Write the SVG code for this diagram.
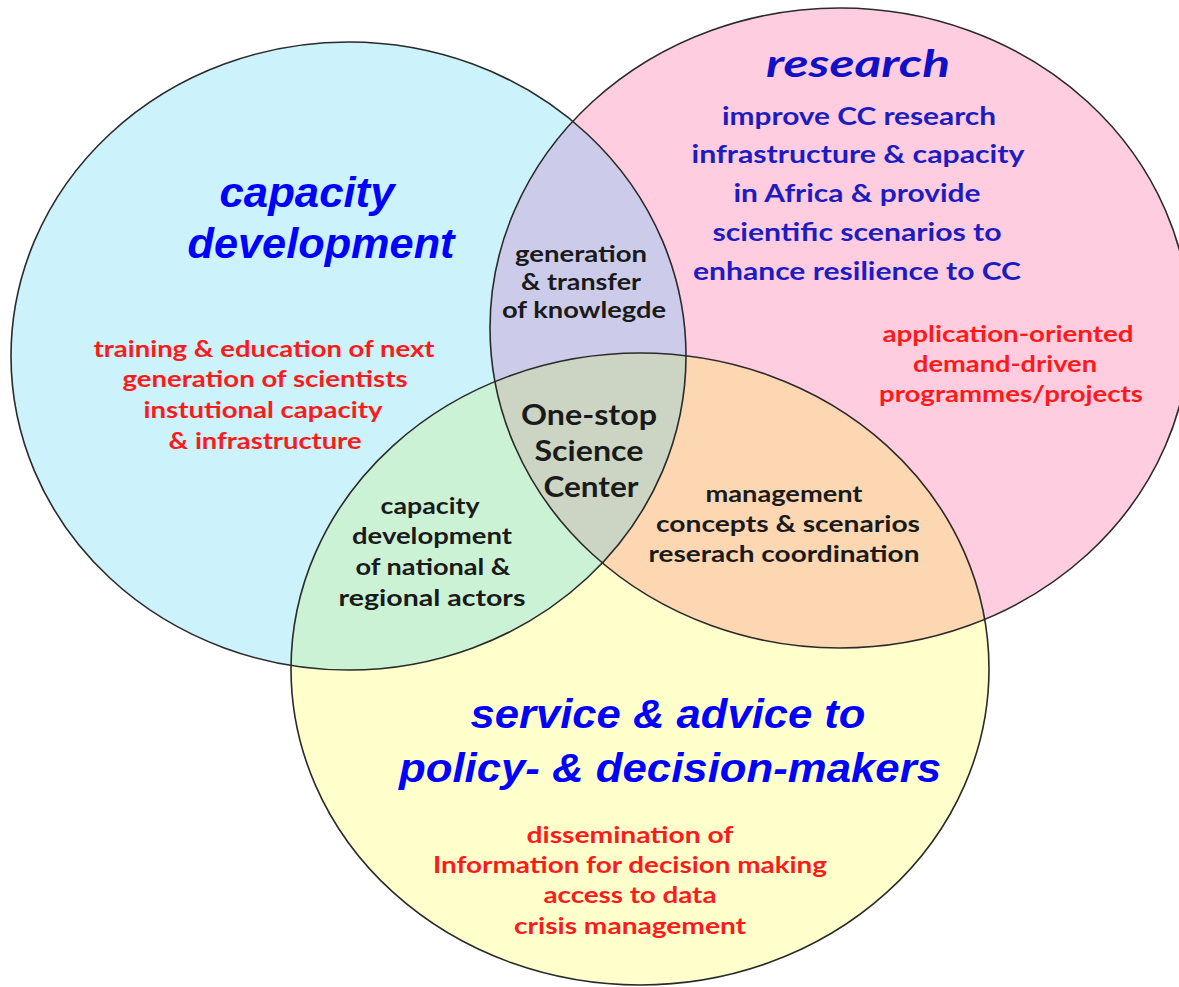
<svg xmlns="http://www.w3.org/2000/svg" width="1179" height="987" viewBox="0 0 1179 987">
<style>
.title{font-family:"Liberation Sans",Arial,sans-serif;font-weight:bold;font-style:italic;fill:#0000ff;text-anchor:middle}
.rt{font-family:Lato,"Open Sans",sans-serif;font-weight:bold;font-style:italic;fill:#1010c8;text-anchor:middle}
.blue{font-family:Lato,"Open Sans",sans-serif;font-weight:bold;fill:#1c1cc0;text-anchor:middle}
.red{font-family:Lato,"Open Sans",sans-serif;font-weight:bold;fill:#ff1a1a;text-anchor:middle}
.blk{font-family:Lato,"Open Sans",sans-serif;font-weight:bold;fill:#1a1a1a;text-anchor:middle}
.ol{fill:none;stroke:#2a2a2a;stroke-width:1.6}
</style>
<defs>
<clipPath id="cL"><ellipse cx="348.5" cy="356" rx="337.5" ry="314"/></clipPath>
<clipPath id="cR"><ellipse cx="840" cy="328" rx="350" ry="320"/></clipPath>
</defs>
<rect width="1179" height="987" fill="#ffffff"/>
<g id="circles">
<ellipse cx="348.5" cy="356" rx="337.5" ry="314" fill="#ccf2fc"/>
<ellipse cx="840" cy="328" rx="350" ry="320" fill="#ffcce0"/>
<ellipse cx="640" cy="669" rx="349" ry="316" fill="#ffffcc"/>
<ellipse cx="840" cy="328" rx="350" ry="320" fill="#ccccea" clip-path="url(#cL)"/>
<ellipse cx="640" cy="669" rx="349" ry="316" fill="#ccf2d6" clip-path="url(#cL)"/>
<ellipse cx="640" cy="669" rx="349" ry="316" fill="#fdd6b2" clip-path="url(#cR)"/>
<g clip-path="url(#cL)"><ellipse cx="640" cy="669" rx="349" ry="316" fill="#ccd4c4" clip-path="url(#cR)"/></g>
<ellipse class="ol" cx="348.5" cy="356" rx="337.5" ry="314"/>
<ellipse class="ol" cx="840" cy="328" rx="350" ry="320"/>
<ellipse class="ol" cx="640" cy="669" rx="349" ry="316"/>
</g>
<g id="capacity-development">
<text class="title" font-size="42" x="307" y="207" textLength="175" lengthAdjust="spacingAndGlyphs">capacity</text>
<text class="title" font-size="42" x="321" y="258" textLength="267" lengthAdjust="spacingAndGlyphs">development</text>
<text class="red" font-size="22" x="264" y="357" textLength="341" lengthAdjust="spacingAndGlyphs">training &amp; education of next</text>
<text class="red" font-size="22" x="265" y="387" textLength="285" lengthAdjust="spacingAndGlyphs">generation of scientists</text>
<text class="red" font-size="22" x="263" y="418" textLength="239" lengthAdjust="spacingAndGlyphs">instutional capacity</text>
<text class="red" font-size="22" x="265" y="449" textLength="193" lengthAdjust="spacingAndGlyphs">&amp; infrastructure</text>
</g>
<g id="research">
<text class="rt" font-size="38" x="858" y="77" textLength="184" lengthAdjust="spacingAndGlyphs">research</text>
<text class="blue" font-size="25" x="859" y="125" textLength="274" lengthAdjust="spacingAndGlyphs">improve CC research</text>
<text class="blue" font-size="25" x="858" y="163" textLength="333" lengthAdjust="spacingAndGlyphs">infrastructure &amp; capacity</text>
<text class="blue" font-size="25" x="857" y="202" textLength="247" lengthAdjust="spacingAndGlyphs">in Africa &amp; provide</text>
<text class="blue" font-size="25" x="857" y="241" textLength="289" lengthAdjust="spacingAndGlyphs">scientific scenarios to</text>
<text class="blue" font-size="25" x="857" y="280" textLength="328" lengthAdjust="spacingAndGlyphs">enhance resilience to CC</text>
<text class="red" font-size="22" x="1008" y="342" textLength="251" lengthAdjust="spacingAndGlyphs">application-oriented</text>
<text class="red" font-size="22" x="1005" y="372" textLength="184" lengthAdjust="spacingAndGlyphs">demand-driven</text>
<text class="red" font-size="22" x="1011" y="402" textLength="264" lengthAdjust="spacingAndGlyphs">programmes/projects</text>
</g>
<g id="service-advice">
<text class="title" font-size="40" x="668" y="728" textLength="395" lengthAdjust="spacingAndGlyphs">service &amp; advice to</text>
<text class="title" font-size="40" x="670" y="782" textLength="542" lengthAdjust="spacingAndGlyphs">policy- &amp; decision-makers</text>
<text class="red" font-size="22" x="630" y="843" textLength="207" lengthAdjust="spacingAndGlyphs">dissemination of</text>
<text class="red" font-size="22" x="630" y="873" textLength="394" lengthAdjust="spacingAndGlyphs">Information for decision making</text>
<text class="red" font-size="22" x="630" y="903" textLength="173" lengthAdjust="spacingAndGlyphs">access to data</text>
<text class="red" font-size="22" x="630" y="934" textLength="232" lengthAdjust="spacingAndGlyphs">crisis management</text>
</g>
<g id="knowledge">
<text class="blk" font-size="22" x="581" y="262" textLength="132" lengthAdjust="spacingAndGlyphs">generation</text>
<text class="blk" font-size="22" x="581" y="290" textLength="120" lengthAdjust="spacingAndGlyphs">&amp; transfer</text>
<text class="blk" font-size="22" x="584" y="318" textLength="164" lengthAdjust="spacingAndGlyphs">of knowlegde</text>
</g>
<g id="one-stop">
<text class="blk" font-size="29" x="589" y="425" textLength="136" lengthAdjust="spacingAndGlyphs">One-stop</text>
<text class="blk" font-size="29" x="589" y="461" textLength="109" lengthAdjust="spacingAndGlyphs">Science</text>
<text class="blk" font-size="29" x="591" y="497" textLength="95" lengthAdjust="spacingAndGlyphs">Center</text>
</g>
<g id="national-actors">
<text class="blk" font-size="22" x="430" y="514" textLength="99" lengthAdjust="spacingAndGlyphs">capacity</text>
<text class="blk" font-size="22" x="432" y="544" textLength="160" lengthAdjust="spacingAndGlyphs">development</text>
<text class="blk" font-size="22" x="433" y="575" textLength="155" lengthAdjust="spacingAndGlyphs">of national &amp;</text>
<text class="blk" font-size="22" x="432" y="606" textLength="187" lengthAdjust="spacingAndGlyphs">regional actors</text>
</g>
<g id="management">
<text class="blk" font-size="22" x="784" y="502" textLength="157" lengthAdjust="spacingAndGlyphs">management</text>
<text class="blk" font-size="22" x="788" y="532" textLength="264" lengthAdjust="spacingAndGlyphs">concepts &amp; scenarios</text>
<text class="blk" font-size="22" x="784" y="562" textLength="271" lengthAdjust="spacingAndGlyphs">reserach coordination</text>
</g>
</svg>
